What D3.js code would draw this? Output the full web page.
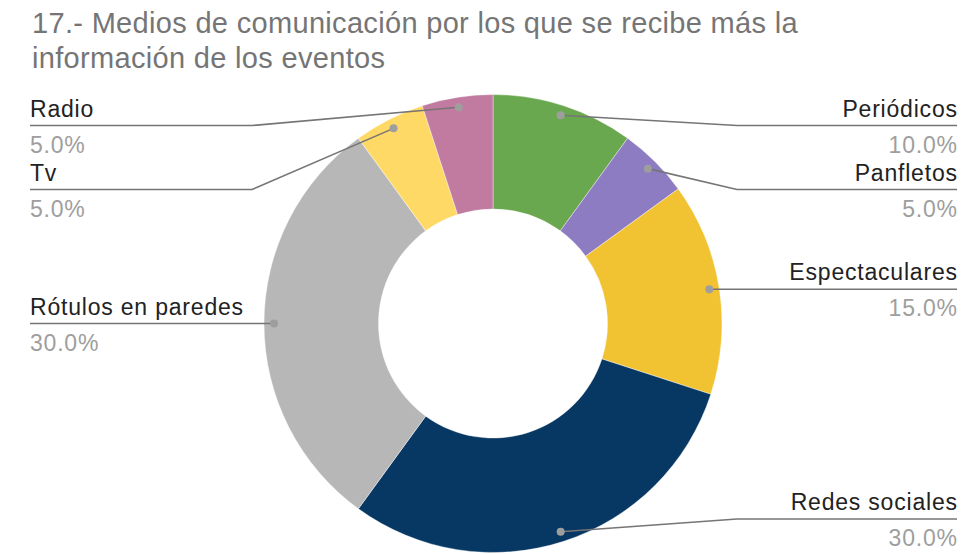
<!DOCTYPE html>
<html>
<head>
<meta charset="utf-8">
<script src="https://cdn.jsdelivr.net/npm/d3@7"></script>
<style>
  html, body { margin: 0; padding: 0; background: #fff; }
  svg { display: block; font-family: Arial, "Liberation Sans", sans-serif; }
</style>
</head>
<body>
<svg id="chart" width="971" height="554"></svg>
<script>
const titleLines = ["17.- Medios de comunicación por los que se recibe más la", "información de los eventos"];
const categories = ["Periódicos", "Panfletos", "Espectaculares", "Redes sociales", "Rótulos en paredes", "Tv", "Radio"];
const values = [10, 5, 15, 30, 30, 5, 5];
const colors = ["#6aa84f", "#8e7cc3", "#f1c232", "#073763", "#b7b7b7", "#ffd966", "#c27ba0"];

const W = 971, H = 554;
const cx = 493, cy = 323.5, rOuter = 229, rInner = 114.5, rDot = 219;
const svg = d3.select("#chart");

// title
const title = svg.append("text").attr("x", 32).attr("fill", "#757575")
  .style("font-size", "29px").style("letter-spacing", "0.32px");
titleLines.forEach((t, i) => title.append("tspan").attr("x", 32).attr("y", 33 + i * 35).text(t));

const data = categories.map((c, i) => ({ name: c, value: values[i], color: colors[i] }));
const total = d3.sum(values);
const pie = d3.pie().value(d => d.value).sort(null);
const arcs = pie(data);
const arc = d3.arc().innerRadius(rInner).outerRadius(rOuter);

const g = svg.append("g").attr("transform", `translate(${cx},${cy})`);
g.selectAll("path").data(arcs).join("path")
  .attr("d", arc)
  .attr("fill", d => d.data.color)
  .attr("stroke", "#fff").attr("stroke-width", 0.4);

// label layout
const fmt = d3.format(".1f");
const items = arcs.map(a => {
  const mid = (a.startAngle + a.endAngle) / 2;
  return {
    a, mid,
    dx: cx + rDot * Math.sin(mid),
    dy: cy - rDot * Math.cos(mid),
    right: Math.sin(mid) >= 0
  };
});
const minY = 125.5, gap = 64, maxY = 519;
["right", "left"].forEach(side => {
  const s = items.filter(d => (side === "right") === d.right).sort((p, q) => p.dy - q.dy);
  let prev = -Infinity;
  s.forEach(d => {
    d.ly = Math.max(d.dy, minY, prev + gap);
    prev = d.ly;
  });
  for (let i = s.length - 1; i >= 0; i--) {
    const lim = i === s.length - 1 ? maxY : s[i + 1].ly - gap;
    if (s[i].ly > lim) s[i].ly = lim;
  }
});

const leftX = 30, rightX = 957, elbowR = 737, elbowL = 252;
const lab = svg.append("g");
items.forEach(d => {
  const endX = d.right ? rightX : leftX;
  const elbowX = d.right ? elbowR : elbowL;
  const pts = Math.abs(d.ly - d.dy) < 2
    ? [[d.dx, d.ly], [endX, d.ly]]
    : [[d.dx, d.dy], [elbowX, d.ly], [endX, d.ly]];
  lab.append("path")
    .attr("d", d3.line()(pts))
    .attr("fill", "none").attr("stroke", "#757575").attr("stroke-width", 1.6);
  lab.append("circle").attr("cx", d.dx).attr("cy", d.dy).attr("r", 4).attr("fill", "#9e9e9e");
  const anchor = d.right ? "end" : "start";
  const tx = d.right ? endX + 0.8 : endX;
  lab.append("text").attr("x", tx).attr("y", d.ly - 9)
    .attr("text-anchor", anchor).attr("fill", "#222")
    .style("font-size", "23px").style("letter-spacing", "0.8px")
    .text(d.a.data.name);
  lab.append("text").attr("x", tx).attr("y", d.ly + 27)
    .attr("text-anchor", anchor).attr("fill", "#9e9e9e")
    .style("font-size", "23px").style("letter-spacing", "0.8px")
    .text(fmt(d.a.data.value / total * 100) + "%");
});
</script>
</body>
</html>
